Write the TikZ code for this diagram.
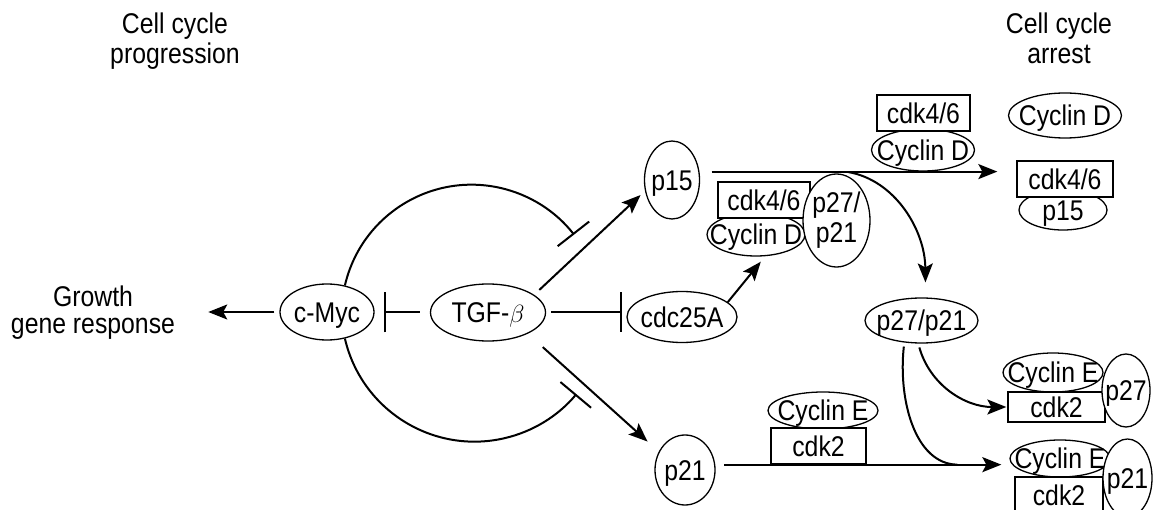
\documentclass[tikz,border=0pt]{standalone}
\usepackage{fontspec}
\setmainfont{Liberation Sans}[FakeStretch=0.87]
\usetikzlibrary{shapes.geometric,arrows.meta,calc}
\pgfdeclarelayer{bg}
\pgfsetlayers{bg,main}
\newcommand{\nt}[1]{\makebox[0pt]{\raisebox{-0.36em}[0pt][0pt]{#1}}}
\newcommand{\ntt}[2]{\makebox[0pt]{\raisebox{-0.25em}[0pt][0pt]{\begin{tabular}{@{}c@{}}#1\\#2\end{tabular}}}}
\begin{document}
\begin{tikzpicture}[x=1pt,y=1pt,
  font=\fontsize{28.5}{30}\selectfont,
  ell/.style={ellipse, draw, fill=white, inner sep=0pt, line width=1.3pt},
  cbox/.style={rectangle, draw, fill=white, inner sep=0pt, line width=1.3pt},
  conn/.style={line width=2pt},
  act/.style={conn, -{Stealth[length=19pt,width=15pt,inset=4pt]}},
  inh/.style={conn, -{Bar[width=40pt]}},
  lbl/.style={align=center, inner sep=0pt}]
\useasboundingbox (0,0) rectangle (1153,-510);
\clip (0,0) rectangle (1153,-510);

% labels
\node[lbl] (prog) at (175,-41) {Cell cycle\\progression};
\node[lbl] (arrest) at (1059,-38) {Cell cycle\\arrest};
\node[lbl, font=\fontsize{28.5}{27}\selectfont] (growth) at (93,-313) {Growth\\gene response};

% main nodes
\node[ell, minimum width=94, minimum height=56] (cmyc) at (327,-312) {\nt{c-Myc}};
\node[ell, minimum width=115, minimum height=57] (tgf) at (488,-312.5) {\nt{TGF-$\beta$}};
\node[ell, minimum width=110, minimum height=51] (cdc) at (682,-317) {\nt{cdc25A}};
\node[ell, minimum width=55, minimum height=78] (p15) at (672,-180) {\nt{p15}};
\node[ell, minimum width=60, minimum height=70] (p21) at (685,-470) {\nt{p21}};

% top complex
\node[ell, minimum width=103, minimum height=42] (tcyd) at (923,-150) {\nt{Cyclin D}};
\node[cbox, minimum width=93, minimum height=36] (tcdk) at (923.5,-113) {\nt{cdk4/6}};

% middle complex
\node[ell, minimum width=98, minimum height=43] (mcyd) at (756,-234.5) {\nt{Cyclin D}};
\node[cbox, minimum width=92, minimum height=36] (mcdk) at (764,-200) {\nt{cdk4/6}};
\node[ell, minimum width=67, minimum height=93] (mp27) at (836.5,-220.5) {\ntt{p27/}{p21}};

% right top
\node[ell, minimum width=113, minimum height=45] (rcyd) at (1065,-115.5) {\nt{Cyclin D}};
\node[ell, minimum width=88, minimum height=40] (rp15) at (1063,-210) {\nt{p15}};
\node[cbox, minimum width=96, minimum height=36] (rcdk) at (1065,-179) {\nt{cdk4/6}};

% p27/p21
\node[ell, minimum width=113, minimum height=45] (p2721) at (921.5,-320.5) {\nt{p27/p21}};

% right Cyclin E / p27 complex
\node[ell, minimum width=100, minimum height=39] (rce1) at (1053,-372.5) {\nt{Cyclin E}};
\node[cbox, minimum width=97, minimum height=30] (rcdka) at (1056.5,-407) {\nt{cdk2}};
\node[ell, minimum width=48, minimum height=73] (rp27) at (1126,-390.5) {\nt{p27}};

% right Cyclin E / p21 complex
\node[ell, minimum width=100, minimum height=37] (rce2) at (1060,-458.5) {\nt{Cyclin E}};
\node[cbox, minimum width=88, minimum height=36] (rcdkb) at (1059,-495) {\nt{cdk2}};
\node[ell, minimum width=49, minimum height=78] (rp21) at (1127.5,-478) {\nt{p21}};

% lower middle complex
\node[ell, minimum width=110, minimum height=37] (lce) at (823,-410.5) {\nt{Cyclin E}};
\node[cbox, minimum width=95, minimum height=36] (lcdk) at (818.5,-446) {\nt{cdk2}};

\coordinate (br1) at (848,-172);
\coordinate (mrg) at ($(p21.10)+(242,0)$);

\begin{pgfonlayer}{bg}
\draw[act, shorten <=5pt, shorten >=33pt] (cmyc.west) -- (cmyc.west -| growth.east);
\draw[inh, shorten <=10pt, shorten >=9pt] (tgf.west) -- (tgf.west -| cmyc.east);
\draw[inh, shorten <=5pt, shorten >=4pt] (tgf.east) -- (tgf.east -| cdc.west);
\draw[act, shorten <=7pt, shorten >=6pt] (tgf.21) -- (p15.202);
\draw[act, shorten <=20pt, shorten >=15pt] (tgf.-28) -- (p21.145);
\draw[act, shorten >=7pt] (cdc.18) -- (mcyd.-67);
\draw[inh] (cmyc.56) arc[start angle=167, end angle=38, radius=130];
\draw[inh] (cmyc.-56) arc[start angle=-167, end angle=-40, radius=133];
\draw[act, shorten <=12pt, shorten >=19pt] (p15.17) -- (p15.17 -| rcdk.west);
\draw[act, shorten >=15pt] (br1) .. controls (895,-180) and (925,-230) .. (p2721.80);
\draw[act, shorten <=4pt, shorten >=1pt] (p2721.-98) .. controls (930,-385) and (965,-407) .. (rcdka.west);
\draw[conn, shorten <=4pt] (p2721.-128) .. controls (898,-400) and (915,-464) .. (mrg);
\draw[act, shorten <=9pt, shorten >=13pt] (p21.10) -- (p21.10 -| rcdkb.west);
\end{pgfonlayer}
\end{tikzpicture}
\end{document}
